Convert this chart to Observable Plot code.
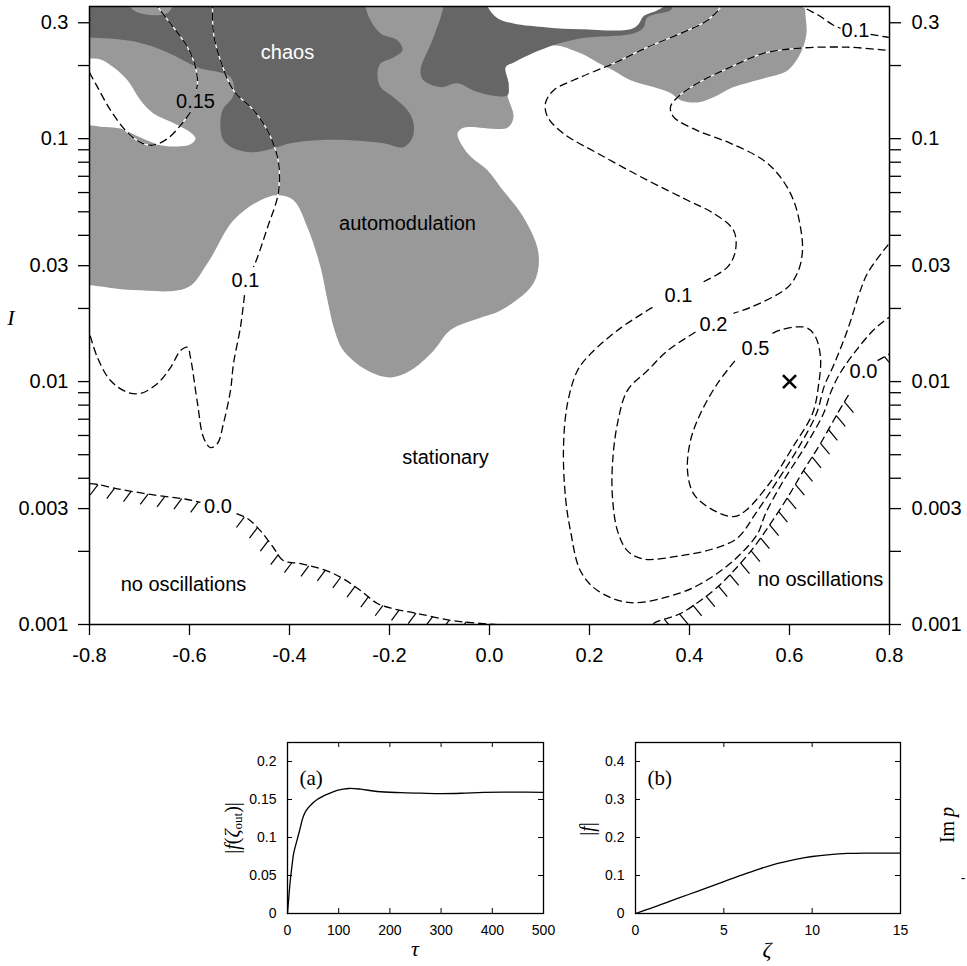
<!DOCTYPE html>
<html><head><meta charset="utf-8">
<script src="https://cdn.jsdelivr.net/npm/d3@7"></script>
<script src="https://cdn.jsdelivr.net/npm/@observablehq/plot@0.6"></script>
<style>
body{margin:0;background:#fff}
#root{position:relative;width:967px;height:966px;overflow:hidden;background:#fff}
.lab{position:absolute;font-family:"Liberation Serif","Times New Roman",serif;line-height:1;white-space:nowrap;color:#000;transform-origin:50% 50%}
.lab sub{font-size:65%;vertical-align:-0.3em;font-style:normal}
</style></head>
<body><div id="root"></div>
<script>
// ================= DATA =================
// main map axes
const xTickValues = [-0.8,-0.6,-0.4,-0.2,0,0.2,0.4,0.6,0.8];
const xTickLabels = ["-0.8","-0.6","-0.4","-0.2","0.0","0.2","0.4","0.6","0.8"];
const yTickValues = [0.001,0.002,0.003,0.004,0.005,0.006,0.007,0.008,0.009,0.01,0.02,0.03,0.04,0.05,0.06,0.07,0.08,0.09,0.1,0.2,0.3];
const yLabelValues = [0.001,0.003,0.01,0.03,0.1,0.3];
const yLabelTexts = ["0.001","0.003","0.01","0.03","0.1","0.3"];

// regions [x, I]
const automodulationRegion = [[-0.818,0.39],[0.642,0.39],[0.632,0.351],[0.634,0.271],[0.622,0.2245],[0.596,0.191],[0.548,0.177],[0.488,0.163],[0.448,0.148],[0.416,0.141],[0.382,0.144],[0.362,0.154],[0.328,0.163],[0.282,0.174],[0.248,0.191],[0.216,0.206],[0.182,0.2245],[0.122,0.242],[0.048,0.206],[0.032,0.197],[0.038,0.169],[0.036,0.151],[0.048,0.123],[0.036,0.111],[-0.052,0.111],[-0.064,0.105],[-0.044,0.0871],[-0.004,0.0741],[0.022,0.0631],[0.068,0.0475],[0.098,0.0337],[0.088,0.0254],[0.022,0.0196],[-0.018,0.0183],[-0.078,0.0163],[-0.112,0.0134],[-0.158,0.0111],[-0.198,0.0104],[-0.244,0.0111],[-0.292,0.0134],[-0.31,0.0163],[-0.324,0.0216],[-0.338,0.0296],[-0.364,0.0431],[-0.392,0.0558],[-0.424,0.0585],[-0.458,0.0558],[-0.512,0.0461],[-0.564,0.0307],[-0.604,0.0244],[-0.712,0.0238],[-0.8,0.0249],[-0.818,0.0249]];
const whiteHoleLeft = [[-0.818,0.214],[-0.8,0.214],[-0.778,0.212],[-0.752,0.197],[-0.724,0.174],[-0.698,0.144],[-0.672,0.127],[-0.632,0.116],[-0.598,0.106],[-0.588,0.1],[-0.598,0.0949],[-0.618,0.0931],[-0.658,0.094],[-0.698,0.101],[-0.738,0.11],[-0.778,0.112],[-0.8,0.1135],[-0.818,0.1135]];
const chaosLeft = [[-0.818,0.39],[-0.248,0.39],[-0.248,0.351],[-0.238,0.307],[-0.218,0.271],[-0.184,0.254],[-0.174,0.231],[-0.192,0.216],[-0.218,0.204],[-0.224,0.186],[-0.218,0.163],[-0.192,0.148],[-0.164,0.131],[-0.152,0.116],[-0.154,0.101],[-0.172,0.0922],[-0.212,0.0957],[-0.278,0.0985],[-0.344,0.0985],[-0.398,0.0957],[-0.432,0.0913],[-0.472,0.0879],[-0.512,0.0913],[-0.532,0.0985],[-0.538,0.111],[-0.534,0.131],[-0.512,0.151],[-0.518,0.179],[-0.584,0.197],[-0.644,0.2265],[-0.712,0.2515],[-0.8,0.261],[-0.818,0.261]];
const autoBumpTop = [[-0.722,0.39],[-0.718,0.351],[-0.712,0.338],[-0.692,0.326],[-0.664,0.322],[-0.644,0.329],[-0.634,0.351],[-0.63,0.39]];
const chaosBand = [[-0.092,0.39],[-0.092,0.351],[-0.112,0.261],[-0.138,0.191],[-0.132,0.174],[-0.098,0.163],[-0.064,0.169],[-0.032,0.158],[0.002,0.151],[0.036,0.151],[0.038,0.169],[0.032,0.197],[0.048,0.206],[0.116,0.238],[0.182,0.2585],[0.288,0.271],[0.308,0.287],[0.316,0.316],[0.362,0.338],[0.366,0.351],[0.366,0.39]];
const whiteHoleTop = [[-0.008,0.39],[-0.004,0.351],[0.016,0.313],[0.048,0.298],[0.116,0.287],[0.182,0.282],[0.282,0.282],[0.298,0.296],[0.308,0.319],[0.336,0.338],[0.348,0.351],[0.352,0.39]];

// contour lines [x, I] (split where a label sits on the line)
const c015a = [[-0.668,0.37],[-0.664,0.351],[-0.632,0.287],[-0.604,0.238],[-0.588,0.197],[-0.584,0.169],[-0.586,0.16]];
const c015b = [[-0.598,0.1285],[-0.614,0.116],[-0.644,0.1],[-0.674,0.094],[-0.698,0.0966],[-0.724,0.106],[-0.758,0.131],[-0.784,0.163],[-0.8,0.187]];
const c01La = [[-0.554,0.37],[-0.554,0.351],[-0.552,0.271],[-0.538,0.21],[-0.512,0.158],[-0.472,0.131],[-0.444,0.108],[-0.424,0.0839],[-0.42,0.0694],[-0.424,0.0574],[-0.444,0.0431],[-0.464,0.0325],[-0.472,0.0296]];
const c01Lb = [[-0.49,0.0227],[-0.498,0.0168],[-0.512,0.01186],[-0.518,0.0092],[-0.532,0.00673],[-0.544,0.00556],[-0.558,0.00535],[-0.572,0.00589],[-0.584,0.00813],[-0.598,0.01254],[-0.604,0.01385],[-0.618,0.0134],[-0.638,0.01142],[-0.664,0.00982],[-0.698,0.00894],[-0.724,0.00903],[-0.758,0.0101],[-0.784,0.01254],[-0.8,0.01584]];
const c01Ra = [[0.47,0.37],[0.464,0.351],[0.436,0.307],[0.382,0.271],[0.316,0.238],[0.248,0.204],[0.182,0.179],[0.128,0.158],[0.112,0.14],[0.116,0.123],[0.148,0.105],[0.216,0.0871],[0.316,0.0674],[0.396,0.0558],[0.448,0.0493],[0.488,0.042],[0.492,0.0347],[0.476,0.0296],[0.422,0.0254]];
const c01Rb = [[0.326,0.0202],[0.262,0.0166],[0.202,0.013],[0.176,0.0111],[0.156,0.00813],[0.148,0.00535],[0.152,0.00333],[0.162,0.00243],[0.182,0.00166],[0.216,0.00138],[0.282,0.00123],[0.382,0.00135],[0.422,0.00147],[0.462,0.00166],[0.502,0.00195],[0.536,0.00236],[0.552,0.00286],[0.588,0.00391],[0.63,0.00535],[0.668,0.00739],[0.684,0.0092],[0.702,0.0109],[0.728,0.013],[0.768,0.0163],[0.798,0.0183],[0.816,0.0192]];
const c02a = [[0.816,0.231],[0.8,0.231],[0.716,0.238],[0.616,0.2355],[0.548,0.2245],[0.482,0.197],[0.416,0.169],[0.376,0.148],[0.362,0.135],[0.368,0.123],[0.416,0.108],[0.482,0.0957],[0.548,0.0815],[0.582,0.0694],[0.608,0.0558],[0.622,0.0431],[0.626,0.0347],[0.618,0.0287],[0.596,0.0244],[0.522,0.0202],[0.488,0.0191]];
const c02b = [[0.412,0.016],[0.356,0.0134],[0.316,0.0111],[0.276,0.0092],[0.256,0.00673],[0.246,0.0046],[0.246,0.00333],[0.256,0.00243],[0.276,0.00201],[0.308,0.00186],[0.382,0.00192],[0.448,0.00205],[0.496,0.00227],[0.532,0.00286],[0.576,0.00391],[0.618,0.00535],[0.654,0.00739],[0.67,0.00964],[0.688,0.01164],[0.716,0.0163],[0.742,0.0238],[0.756,0.0279],[0.796,0.0363],[0.816,0.0404]];
const c05 = [[0.566,0.0158],[0.582,0.0163],[0.616,0.0168],[0.636,0.0166],[0.652,0.0153],[0.662,0.01254],[0.658,0.00964],[0.646,0.00739],[0.606,0.00535],[0.564,0.00391],[0.512,0.00294],[0.488,0.00278],[0.442,0.003],[0.408,0.00346],[0.396,0.0043],[0.402,0.00572],[0.422,0.00739],[0.456,0.00982],[0.496,0.01254]];
const c01TRa = [[0.618,0.37],[0.626,0.351],[0.658,0.322],[0.688,0.293],[0.702,0.2846]];
const c01TRb = [[0.762,0.269],[0.8,0.261],[0.816,0.2585]];
// zero-growth boundaries (hatched)
const c00La = [[-0.8,0.0038],[-0.784,0.00377],[-0.744,0.00362],[-0.678,0.00343],[-0.604,0.00327],[-0.578,0.00318]];
const c00Lb = [[-0.506,0.00286],[-0.484,0.00273],[-0.458,0.00243],[-0.432,0.00207],[-0.412,0.00183],[-0.378,0.00178],[-0.324,0.00166],[-0.292,0.00154],[-0.258,0.00138],[-0.224,0.00122],[-0.192,0.00116],[-0.144,0.00111],[-0.078,0.00104],[-0.018,0.00101],[0.048,0.00099]];
const c00Ra = [[0.312,0.000924],[0.328,0.00101],[0.382,0.00111],[0.448,0.00138],[0.488,0.00166],[0.528,0.00207],[0.562,0.0026],[0.596,0.00333],[0.628,0.0043],[0.662,0.00556],[0.696,0.00739],[0.72,0.00894]];
const c00Rb = [[0.776,0.0122],[0.8,0.013],[0.816,0.01359]];

// texts on the map
const regionLabels = [
  {x:-0.404, I:0.227, text:"chaos", color:"#fff"},
  {x:-0.164, I:0.0445, text:"automodulation", color:"#000"},
  {x:-0.088, I:0.00488, text:"stationary", color:"#000"},
  {x:-0.612, I:0.00146, text:"no oscillations", color:"#000"},
  {x:0.662, I:0.00153, text:"no oscillations", color:"#000"}
];
const contourLabels = [
  {x:-0.588, I:0.1426, text:"0.15"},
  {x:-0.488, I:0.026, text:"0.1"},
  {x:0.378, I:0.02254, text:"0.1"},
  {x:0.448, I:0.01724, text:"0.2"},
  {x:0.532, I:0.01373, text:"0.5"},
  {x:0.748, I:0.011, text:"0.0"},
  {x:-0.543, I:0.003046, text:"0.0"},
  {x:0.732, I:0.2786, text:"0.1"}
];
const crossPoint = [{x:0.6, I:0.01}];

// panel (a)
const aTau = [0,3,6,9,12,16,20,25,30,36,45,58,78,97,120,143,175,221,260,299,340,383,440,500];
const aF = [0,0.025,0.047,0.064,0.079,0.09,0.1,0.113,0.126,0.135,0.1425,0.15,0.157,0.162,0.1645,0.1636,0.1605,0.159,0.1583,0.1577,0.1582,0.1595,0.1597,0.1593];
const aXTicks = [0,100,200,300,400,500];
const aXLabels = ["0","100","200","300","400","500"];
const aYTicks = [0,0.05,0.1,0.15,0.2];
const aYLabels = ["0","0.05","0.1","0.15","0.2"];
// panel (b)
const bZeta = [0,1,2,3,4,5,6,7,8,9,10,11,12,13,14,15];
const bF = [0,0.016,0.033,0.05,0.067,0.084,0.101,0.117,0.131,0.142,0.15,0.155,0.158,0.159,0.159,0.159];
const bXTicks = [0,5,10,15];
const bXLabels = ["0","5","10","15"];
const bYTicks = [0,0.1,0.2,0.3,0.4];
const bYLabels = ["0","0.1","0.2","0.3","0.4"];

// ================= DRAWING =================
const root = document.getElementById("root");
const SANS = '"Liberation Sans", Arial, Helvetica, sans-serif';
const SERIF = '"Liberation Serif", "Times New Roman", serif';

const MAIN = {width: 967, height: 690, ml: 89, mr: 78, mt: 6, mb: 66};
const xDomain = [-0.8, 0.8], yDomain = [0.001, 0.35];
const xS = d3.scaleLinear(xDomain, [MAIN.ml, MAIN.width - MAIN.mr]);
const yS = d3.scaleLog(yDomain, [MAIN.height - MAIN.mb, MAIN.mt]);

function hatchAnchors(seg, step) {
  const pts = seg.map(([x, I]) => [xS(x), yS(I)]);
  const out = [];
  let t = step / 2;
  for (let i = 1; i < pts.length; i++) {
    const [x0, y0] = pts[i - 1], [x1, y1] = pts[i];
    const L = Math.hypot(x1 - x0, y1 - y0);
    while (t <= L) {
      out.push({x: xS.invert(x0 + (x1 - x0) * t / L), I: yS.invert(y0 + (y1 - y0) * t / L)});
      t += step;
    }
    t -= L;
  }
  return out;
}
const hatchSymbol = (ux, uy, len) => ({draw(ctx) { ctx.moveTo(0, 0); ctx.lineTo(ux * len, uy * len); }});

const contourSegs = [c015a, c015b, c01La, c01Lb, c01Ra, c01Rb, c02a, c02b, c05, c01TRa, c01TRb];
const contourRows = contourSegs.flatMap((s, k) => s.map(([x, I]) => ({x, I, k})));
const zeroSegs = [c00La, c00Lb, c00Ra, c00Rb];
const zeroRows = zeroSegs.flatMap((s, k) => s.map(([x, I]) => ({x, I, k})));
const hatchL = [c00La, c00Lb].flatMap(s => hatchAnchors(s, 17));
const hatchR = [c00Ra, c00Rb].flatMap(s => hatchAnchors(s, 16));

const region = (pts, fill) => Plot.line(pts, {x: d => d[0], y: d => d[1], fill, stroke: "none", curve: "catmull-rom", clip: true});
const yLabMap = new Map(yLabelValues.map((v, i) => [v, yLabelTexts[i]]));
const xLabMap = new Map(xTickValues.map((v, i) => [v, xTickLabels[i]]));

const main = Plot.plot({
  width: MAIN.width, height: MAIN.height,
  marginLeft: MAIN.ml, marginRight: MAIN.mr, marginTop: MAIN.mt, marginBottom: MAIN.mb,
  style: {fontFamily: SANS, fontSize: "20px", background: "transparent", overflow: "visible"},
  x: {domain: xDomain},
  y: {type: "log", domain: yDomain},
  marks: [
    region(automodulationRegion, "#999999"),
    region(whiteHoleLeft, "#ffffff"),
    region(chaosLeft, "#666666"),
    region(autoBumpTop, "#999999"),
    region(chaosBand, "#666666"),
    region(whiteHoleTop, "#ffffff"),
    Plot.line(contourRows, {x: "x", y: "I", z: "k", stroke: "#fff", strokeWidth: 1.3, curve: "catmull-rom", clip: true}),
    Plot.line(contourRows, {x: "x", y: "I", z: "k", stroke: "#000", strokeWidth: 1.3, strokeDasharray: "8,4", strokeLinecap: "butt", curve: "catmull-rom", clip: true}),
    Plot.line(zeroRows, {x: "x", y: "I", z: "k", stroke: "#000", strokeWidth: 1.3, strokeDasharray: "8,4", strokeLinecap: "butt", curve: "catmull-rom", clip: true}),
    Plot.dot(hatchL, {x: "x", y: "I", r: 4, symbol: hatchSymbol(-0.6, 0.8, 13), stroke: "#000", fill: "none", strokeWidth: 1.2, clip: true}),
    Plot.dot(hatchR, {x: "x", y: "I", r: 4, symbol: hatchSymbol(0.64, 0.77, 14), stroke: "#000", fill: "none", strokeWidth: 1.2, clip: true}),
    Plot.text(regionLabels, {x: "x", y: "I", text: "text", fill: "color", fontSize: 20}),
    Plot.text(contourLabels, {x: "x", y: "I", text: "text", fill: "#000", fontSize: 20}),
    Plot.dot(crossPoint, {x: "x", y: "I", symbol: "times", r: 6, stroke: "#000", strokeWidth: 2.6}),
    Plot.frame({stroke: "#000", strokeWidth: 1.5}),
    Plot.axisY(yTickValues, {anchor: "left", tickSize: 11, tickPadding: 10, strokeWidth: 1.3, fontSize: 20, tickFormat: d => yLabMap.get(d) ?? "", label: null}),
    Plot.axisY(yTickValues, {anchor: "right", tickSize: 11, tickPadding: 11, strokeWidth: 1.3, fontSize: 20, tickFormat: d => yLabMap.get(d) ?? "", label: null}),
    Plot.axisX(xTickValues, {anchor: "bottom", tickSize: 11, tickPadding: 12, strokeWidth: 1.3, fontSize: 20, tickFormat: d => xLabMap.get(d) ?? "", label: null})
  ]
});
main.style.position = "absolute"; main.style.left = "0px"; main.style.top = "0px";
root.appendChild(main);

function panel({left, top, width, height, ml, mr, mt, mb, xDom, yDom, xT, xL, yT, yL, xs, ys, tag, curve}) {
  const FW = width - ml - mr, FH = height - mt - mb;
  const xm = new Map(xT.map((v, i) => [v, xL[i]]));
  const ym = new Map(yT.map((v, i) => [v, yL[i]]));
  const rows = xs.map((v, i) => ({u: v, f: ys[i]}));
  const p = Plot.plot({
    width, height, marginLeft: ml, marginRight: mr, marginTop: mt, marginBottom: mb,
    style: {fontFamily: SANS, fontSize: "14px", background: "transparent", overflow: "visible"},
    x: {domain: xDom},
    y: {domain: yDom},
    marks: [
      Plot.tickY(yT, {y: d => d, insetRight: FW - 5, stroke: "#000", strokeWidth: 1}),
      Plot.tickY(yT, {y: d => d, insetLeft: FW - 5, stroke: "#000", strokeWidth: 1}),
      Plot.tickX(xT, {x: d => d, insetTop: FH - 5, stroke: "#000", strokeWidth: 1}),
      Plot.tickX(xT, {x: d => d, insetBottom: FH - 5, stroke: "#000", strokeWidth: 1}),
      Plot.line(rows, {x: "u", y: "f", stroke: "#000", strokeWidth: 1.3, curve}),
      Plot.text([tag], {frameAnchor: "top-left", text: d => d, dx: 12, dy: 28, textAnchor: "start", fontFamily: SERIF, fontSize: 21}),
      Plot.frame({stroke: "#000", strokeWidth: 1.3}),
      Plot.axisY(yT, {anchor: "left", tickSize: 0, tickPadding: 11, fontSize: 14, tickFormat: d => ym.get(d), label: null}),
      Plot.axisX(xT, {anchor: "bottom", tickSize: 0, tickPadding: 12, fontSize: 14, tickFormat: d => xm.get(d), label: null})
    ]
  });
  p.style.position = "absolute"; p.style.left = left + "px"; p.style.top = top + "px";
  root.appendChild(p);
}
panel({left: 200, top: 690, width: 360, height: 276, ml: 87, mr: 17, mt: 52, mb: 53,
  xDom: [0, 500], yDom: [0, 0.225], xT: aXTicks, xL: aXLabels, yT: aYTicks, yL: aYLabels,
  xs: aTau, ys: aF, tag: "(a)", curve: "catmull-rom"});
panel({left: 560, top: 690, width: 407, height: 276, ml: 75, mr: 67, mt: 52, mb: 53,
  xDom: [0, 15], yDom: [0, 0.45], xT: bXTicks, xL: bXLabels, yT: bYTicks, yL: bYLabels,
  xs: bZeta, ys: bF, tag: "(b)", curve: "catmull-rom"});

// math labels
function label(html, cx, cy, size, rot) {
  const d = document.createElement("div");
  d.className = "lab";
  d.innerHTML = html;
  d.style.fontSize = size + "px";
  d.style.left = cx + "px";
  d.style.top = cy + "px";
  d.style.transform = `translate(-50%,-50%)` + (rot ? ` rotate(${rot}deg)` : "");
  root.appendChild(d);
}
label("<i>I</i>", 11, 318, 22, 0);
label("|<i>f</i>(<i>ζ</i><sub>out</sub>)|", 233, 828, 20, -90);
label("<i>τ</i>", 415, 949, 22, 0);
label("|<i>f</i>|", 587, 829, 20, -90);
label("<i>ζ</i>", 767, 950, 22, 0);
label("Im&#8201;<i>p</i>", 947, 825, 20, -90);
label("<span style='font-family:Liberation Sans,Arial,sans-serif'>-</span>", 963, 878, 14, 0);
</script></body></html>
